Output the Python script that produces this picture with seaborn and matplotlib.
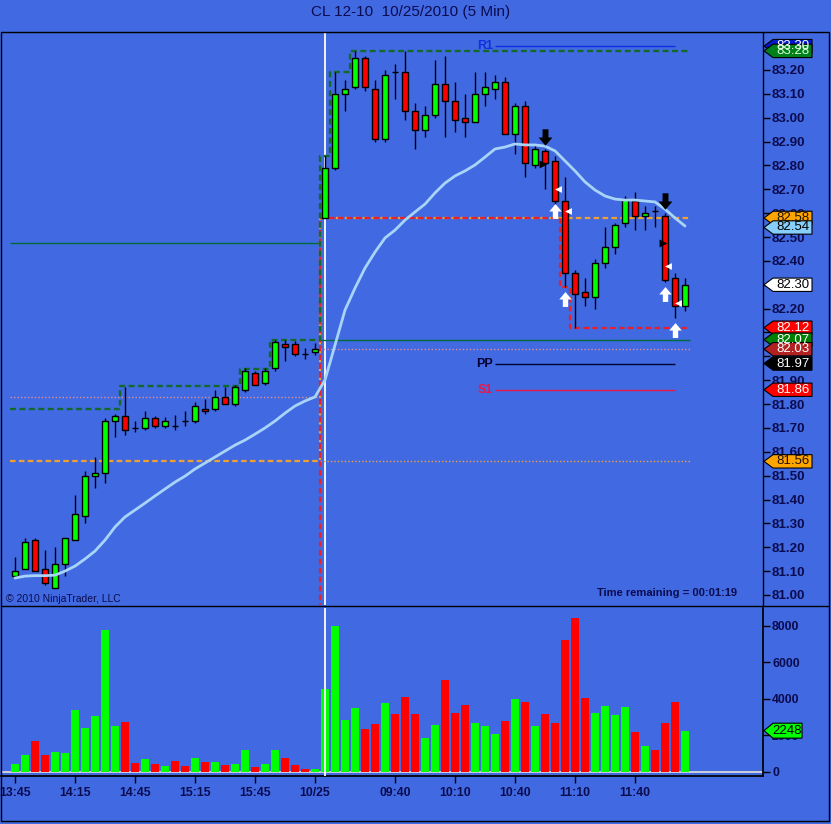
import numpy as np
import pandas as pd
import seaborn as sns
import matplotlib.pyplot as plt
from matplotlib.path import Path
from matplotlib.patches import Polygon, Rectangle
from matplotlib.lines import Line2D
import matplotlib.transforms as mtransforms

# 5 min bars: 13:45-16:15 of the prior session, then 09:05-12:05 on 10/25
opens = [81.08, 81.11, 81.23, 81.11, 81.03, 81.13, 81.23, 81.33, 81.50, 81.51,
         81.73, 81.75, 81.70, 81.70, 81.74, 81.71, 81.71, 81.73, 81.73, 81.78,
         81.78, 81.83, 81.80, 81.86, 81.93, 81.89, 81.95, 82.05, 82.05, 82.01,
         82.02,
         82.58, 82.79, 83.10, 83.13, 83.25, 83.12, 82.91, 83.19, 83.19, 83.03,
         82.95, 83.01, 83.14, 83.07, 83.00, 82.98, 83.10, 83.12, 83.15, 82.93,
         83.05, 82.80, 82.86, 82.82, 82.65, 82.35, 82.27, 82.25, 82.39, 82.46,
         82.56, 82.65, 82.59, 82.61, 82.59, 82.33, 82.21]
highs = [81.16, 81.24, 81.24, 81.19, 81.20, 81.24, 81.42, 81.52, 81.58, 81.74,
         81.76, 81.87, 81.73, 81.77, 81.75, 81.745, 81.755, 81.77, 81.81, 81.82,
         81.86, 81.87, 81.88, 81.95, 81.94, 81.95, 82.07, 82.07, 82.065, 82.035,
         82.055,
         82.84, 83.19, 83.16, 83.28, 83.26, 83.16, 83.20, 83.225, 83.28, 83.06,
         83.05, 83.24, 83.26, 83.15, 83.10, 83.19, 83.19, 83.18, 83.17, 83.06,
         83.07, 82.89, 82.87, 82.84, 82.75, 82.36, 82.33, 82.41, 82.54, 82.56,
         82.67, 82.69, 82.63, 82.63, 82.60, 82.35, 82.33]
lows = [81.08, 81.11, 81.10, 81.04, 81.03, 81.08, 81.23, 81.30, 81.45, 81.47,
        81.66, 81.67, 81.685, 81.69, 81.70, 81.70, 81.69, 81.71, 81.72, 81.76,
        81.77, 81.80, 81.79, 81.85, 81.88, 81.88, 81.94, 81.98, 82.00, 81.99,
        82.005,
        82.58, 82.78, 83.03, 83.12, 83.11, 82.90, 82.90, 83.08, 82.99, 82.87,
        82.92, 83.00, 82.92, 82.94, 82.92, 82.98, 83.05, 83.08, 82.93, 82.85,
        82.75, 82.79, 82.70, 82.64, 82.29, 82.12, 82.21, 82.20, 82.37, 82.43,
        82.54, 82.53, 82.53, 82.54, 82.31, 82.16, 82.19]
closes = [81.10, 81.22, 81.10, 81.05, 81.13, 81.24, 81.34, 81.50, 81.51, 81.73,
          81.75, 81.69, 81.70, 81.74, 81.71, 81.73, 81.71, 81.73, 81.79, 81.77,
          81.83, 81.80, 81.87, 81.94, 81.88, 81.94, 82.06, 82.04, 82.01, 82.01,
          82.03,
          82.79, 83.10, 83.12, 83.25, 83.13, 82.91, 83.18, 83.19, 83.03, 82.95,
          83.01, 83.14, 83.07, 82.99, 82.98, 83.10, 83.13, 83.15, 82.93, 83.05,
          82.81, 82.87, 82.81, 82.65, 82.35, 82.26, 82.25, 82.39, 82.46, 82.55,
          82.66, 82.59, 82.60, 82.61, 82.32, 82.21, 82.30]
volumes = [420, 910, 1680, 910, 1060, 1020, 3380, 2390, 3050, 7760,
           2500, 2720, 490, 690, 440, 330, 600, 330, 770, 550,
           550, 380, 440, 1200, 270, 440, 1200, 770, 380, 160,
           150,
           4550, 8000, 2850, 3510, 2360, 2630, 3760, 3180, 4110, 3180,
           1860, 2560, 5020, 3230, 3670, 2670, 2520, 2080, 2790, 4000,
           3820, 2480, 3180, 2680, 7210, 8440, 4050, 3230, 3600, 3120,
           3560, 2190, 1420, 1210, 2680, 3820, 2248]
# light blue moving average, read bar by bar
ma_values = [81.071, 81.079, 81.081, 81.081, 81.083, 81.100, 81.121, 81.151, 81.184, 81.230,
             81.285, 81.327, 81.356, 81.385, 81.415, 81.444, 81.473, 81.498, 81.528, 81.553,
             81.578, 81.603, 81.628, 81.649, 81.674, 81.700, 81.729, 81.762, 81.792, 81.813,
             81.830,
             81.901, 82.047, 82.194, 82.286, 82.370, 82.437, 82.496, 82.529, 82.571, 82.605,
             82.638, 82.685, 82.726, 82.756, 82.777, 82.802, 82.835, 82.869, 82.877, 82.890,
             82.886, 82.886, 82.881, 82.861, 82.819, 82.777, 82.731, 82.697, 82.672, 82.659,
             82.655, 82.655, 82.651, 82.647, 82.617, 82.580, 82.546]

tick_bars = [0, 6, 12, 18, 24, 30, 38, 44, 50, 56, 62]
tick_labels = ["13:45", "14:15", "14:45", "15:15", "15:45", "10/25",
               "09:40", "10:10", "10:40", "11:10", "11:40"]
session_start = 31

# session high / low / open step lines (bar where each level starts)
high_bars = [0, 11, 23, 26, 31, 32, 34]
high_levels = [81.78, 81.875, 81.945, 82.07, 82.84, 83.19, 83.28]
low_bars = [0, 31, 55, 56]
low_levels = [80.90, 82.58, 82.29, 82.12]
open_bars = [0, 31]
open_levels = [81.56, 82.58]
prior_high = [82.475, 82.07]
prior_close = [81.83, 82.03]
prior_open = 81.56

pivot_names = ["R1", "PP", "S1"]
pivot_levels = [83.30, 81.97, 81.86]
pivot_colors = ["#1030e0", "#000030", "#e8184a"]
pivot_from, pivot_to = 48, 66

down_bars = [53, 65]
down_prices = [82.92, 82.65]
up_bars = [54, 55, 65, 66]
up_prices = [82.61, 82.24, 82.26, 82.11]
left_bars = [54, 55, 65, 66]
left_prices = [82.70, 82.61, 82.38, 82.225]
right_bars = [53, 65]
right_prices = [82.805, 82.475]

tag_values = [83.30, 83.28, 82.58, 82.54, 82.30, 82.12, 82.07, 82.03, 81.97, 81.86, 81.56]
tag_fills = ["#0018c8", "#00801a", "#ffa500", "#87cefa", "#ffffff", "#ff0000",
             "#008000", "#b22222", "#000000", "#ff0000", "#ffa500"]
tag_texts = ["white", "#d8ffd8", "#201000", "black", "black", "white",
             "white", "white", "white", "white", "#201000"]
# price ticks that sit completely under a tag in the chart
hidden_ticks = [82.30, 82.10, 82.00]
volume_tag = 2248

ROYAL = "#4169e1"
NAVY = "#0b0b4f"
W, H = 831, 824

sns.set_theme(style="white", rc={"axes.facecolor": ROYAL, "figure.facecolor": ROYAL,
                                 "savefig.facecolor": ROYAL, "axes.edgecolor": "black"})
plt.rcParams["font.family"] = ["Liberation Sans", "DejaVu Sans"]


def fbox(x0, y0, x1, y1):
    return [x0 / W, 1 - y1 / H, (x1 - x0) / W, (y1 - y0) / H]


fig = plt.figure(figsize=(W / 100, H / 100), dpi=100)
ax = fig.add_axes(fbox(1, 33, 763, 605))
axv = fig.add_axes(fbox(1, 608, 763, 776))

idx = np.arange(len(opens))
o, h, l, c = map(np.array, (opens, highs, lows, closes))
up = c > o
n = len(idx)

# ---- price panel ----
ax.axvline(session_start, color="white", lw=1.3, zorder=2)


def step_line(bars, levels, **kw):
    xs = [b - 0.5 for b in bars] + [n - 0.5]
    ys = list(levels) + [levels[-1]]
    ax.step(xs, ys, where="post", **kw)


edge = session_start - 0.5
ax.hlines(prior_high, [-0.5, edge], [edge, n - 0.5], color="#006b3c", lw=1, zorder=3)
ax.hlines(prior_close, [-0.5, edge], [edge, n - 0.5], color="#e09090", lw=1,
          linestyles=(0, (1, 1.5)), zorder=3)
ax.hlines(prior_open, edge, n - 0.5, color="#f0a040", lw=1, linestyles=(0, (1, 1.5)), zorder=3)

step_line(open_bars, open_levels, color="#f0a030", lw=1.6, ls=(0, (2.5, 1.5)), zorder=3)
step_line(low_bars, low_levels, color="#e8202a", lw=1.6, ls=(0, (2.5, 1.5)), zorder=3)
step_line(high_bars, high_levels, color="#13692a", lw=1.7, ls=(0, (2.5, 1.5)), zorder=3)

for name, lev, col in zip(pivot_names, pivot_levels, pivot_colors):
    ax.hlines(lev, pivot_from, pivot_to, color=col, lw=1, zorder=3)
    ax.text(pivot_from - 0.2, lev, name, color=col, fontsize=9, fontweight="bold",
            ha="right", va="center", zorder=3)

sns.lineplot(x=idx, y=ma_values, ax=ax, color="#a8d4f8", lw=2, zorder=6)

ax.vlines(idx, l, h, colors="black", lw=1, zorder=4)
ax.bar(idx, np.abs(c - o), bottom=np.minimum(o, c), width=0.64,
       color=np.where(up, "#00ff00", "#ff0000"), edgecolor="black", linewidth=1, zorder=5)

down_arrow = Path([(-0.18, 0.5), (0.18, 0.5), (0.18, 0.0), (0.42, 0.0), (0.0, -0.5),
                   (-0.42, 0.0), (-0.18, 0.0), (-0.18, 0.5)], closed=True)
up_arrow = Path([(x, -y) for x, y in down_arrow.vertices], closed=True)
ax.scatter(down_bars, down_prices, marker=down_arrow, s=140, color="black", linewidths=0, zorder=7)
ax.scatter(up_bars, up_prices, marker=up_arrow, s=115, color="white", linewidths=0, zorder=7)
ax.scatter(np.array(left_bars) + 0.25, left_prices, marker="<", s=24, color="white",
           linewidths=0, zorder=7)
ax.scatter(np.array(right_bars) - 0.25, right_prices, marker=">", s=32, color="black",
           linewidths=0, zorder=7)

ax.set_xlim(-1.4, 74.8)
ax.set_ylim(80.958, 83.355)
ax.set_xlabel("")
ax.set_ylabel("")
ax.tick_params(axis="x", bottom=False, labelbottom=False)
ax.yaxis.tick_right()
yt = np.round(np.arange(81.0, 83.21, 0.1), 2)
ax.set_yticks(yt)
ax.set_yticklabels(["" if v in hidden_ticks else f"{v:.2f}" for v in yt], fontweight="bold")
ax.tick_params(axis="y", right=True, direction="out", length=5, width=1, color="black",
               labelcolor=NAVY, labelsize=9.6, pad=1.5)
for s in ("top", "left", "bottom"):
    ax.spines[s].set_visible(False)
ax.spines["right"].set_linewidth(1)


def draw_tag(axis, y, text, fill, tcol, half, right_px, fs=9.5):
    tr = mtransforms.blended_transform_factory(axis.transAxes, axis.transData)
    fx = lambda px: (px - 1) / 762
    pts = [(fx(764), y), (fx(773), y + half), (fx(right_px), y + half),
           (fx(right_px), y - half), (fx(773), y - half)]
    axis.add_patch(Polygon(pts, closed=True, transform=tr, facecolor=fill,
                           edgecolor="black", lw=0.8, clip_on=False, zorder=10))
    axis.text(fx((773 + right_px) / 2), y, text, transform=tr, ha="center", va="center",
              color=tcol, fontsize=fs, clip_on=False, zorder=11)


for v, fc, tc in zip(tag_values, tag_fills, tag_texts):
    draw_tag(ax, v, f"{v:.2f}", fc, tc, 0.028, 812)

ax.text(0.0065, 0.002, "\u00a9 2010 NinjaTrader, LLC", transform=ax.transAxes,
        fontsize=7.5, color=NAVY, ha="left", va="bottom")
ax.text(0.966, 0.013, "Time remaining = 00:01:19", transform=ax.transAxes,
        fontsize=8, fontweight="bold", color=NAVY, ha="right", va="bottom")

# ---- volume panel ----
vol_df = pd.DataFrame({"bar": idx, "volume": volumes,
                       "direction": np.where(up, "up", "down")})
axv.axhline(0, color="#d8d8d8", lw=1.3, zorder=1)
sns.barplot(data=vol_df, x="bar", y="volume", hue="direction",
            palette={"up": "#00ff00", "down": "#ff0000"}, native_scale=True,
            width=0.72, dodge=False, saturation=1, errorbar=None, legend=False,
            linewidth=0, ax=axv, zorder=2)
axv.axvline(session_start, color="white", lw=1.3, zorder=3)
axv.set_xlim(-1.4, 74.8)
axv.set_ylim(-236, 8970)
axv.set_xlabel("")
axv.set_ylabel("")
axv.yaxis.tick_right()
axv.set_yticks([0, 2000, 4000, 6000, 8000])
axv.set_yticklabels(["0", "2000", "4000", "6000", "8000"], fontweight="bold")
axv.set_xticks(tick_bars)
axv.set_xticklabels(tick_labels, fontweight="bold")
axv.tick_params(axis="both", direction="out", length=5, width=1, color="black",
                labelcolor=NAVY, labelsize=8.8, pad=1.5)
axv.tick_params(axis="x", bottom=True, pad=3)
axv.tick_params(axis="y", right=True)
for s in ("top", "left"):
    axv.spines[s].set_visible(False)
draw_tag(axv, volume_tag, str(volume_tag), "#00ff00", "black", 410, 802)

# ---- frame and title ----
fig.add_artist(Rectangle((1 / W, 1 - 821 / H), 828 / W, 789 / H, transform=fig.transFigure,
                         fill=False, edgecolor="black", lw=1))
fig.add_artist(Line2D([1 / W, 829 / W], [1 - 606 / H] * 2, transform=fig.transFigure,
                      color="black", lw=1))
fig.text(411 / W, 1 - 12 / H, "CL 12-10  10/25/2010 (5 Min)", ha="center", va="center",
         fontsize=11, color=NAVY, family=["Liberation Sans Narrow", "Liberation Sans"])

fig.savefig("out.png", dpi=100)
